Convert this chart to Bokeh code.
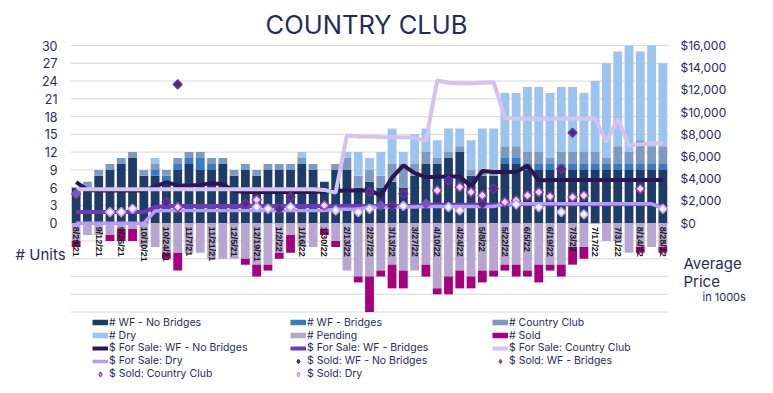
import numpy as np
from bokeh.plotting import figure
from bokeh.models import (Range1d, ColumnDataSource, Legend, LegendItem, Label)
from bokeh.core.properties import value
from bokeh.embed import file_html
from bokeh.resources import INLINE

# ---------------- data ----------------
weeks = ["8/29/21", "9/5/21", "9/12/21", "9/19/21", "9/26/21", "10/3/21", "10/10/21", "10/17/21",
         "10/24/21", "10/31/21", "11/7/21", "11/14/21", "11/21/21", "11/28/21", "12/5/21", "12/12/21",
         "12/19/21", "12/26/21", "1/2/22", "1/9/22", "1/16/22", "1/23/22", "1/30/22", "2/6/22",
         "2/13/22", "2/20/22", "2/27/22", "3/6/22", "3/13/22", "3/20/22", "3/27/22", "4/3/22",
         "4/10/22", "4/17/22", "4/24/22", "5/1/22", "5/8/22", "5/15/22", "5/22/22", "5/29/22",
         "6/5/22", "6/12/22", "6/19/22", "6/26/22", "7/3/22", "7/10/22", "7/17/22", "7/24/22",
         "7/31/22", "8/7/22", "8/14/22", "8/21/22", "8/28/22"]

wf_no_bridges = [6, 6, 8, 9, 10, 11, 8, 8, 7, 9, 10, 9, 9, 10, 8, 9, 8, 9, 9, 9,
                 10, 9, 7, 9, 9, 6, 7, 6, 7, 6, 8, 10, 10, 11, 12, 8, 8, 8, 10, 10,
                 9, 9, 9, 9, 9, 9, 9, 9, 9, 9, 9, 9, 9]
wf_bridges = [0, 0, 0, 0, 0, 0, 0, 1, 1, 1, 1, 2, 1, 0, 0, 0, 0, 0, 0, 0,
              0, 0, 0, 0, 0, 0, 0, 0, 0, 0, 0, 0, 0, 0, 0, 0, 0, 0, 1, 1,
              1, 1, 1, 1, 1, 1, 1, 1, 1, 1, 1, 1, 1]
country_club = [0, 1, 1, 1, 1, 1, 1, 1, 1, 1, 1, 1, 1, 1, 1, 1, 1, 1, 1, 1,
                1, 1, 0, 1, 2, 2, 2, 2, 3, 4, 2, 2, 1, 1, 1, 1, 1, 1, 2, 2,
                2, 2, 1, 2, 2, 2, 2, 1, 3, 2, 4, 3, 3]
dry = [0, 0, 0, 0, 0, 0, 0, 1, 0, 0, 0, 0, 0, 0, 0, 0, 0, 0, 0, 0,
       1, 0, 0, 0, 1, 4, 2, 4, 6, 2, 5, 4, 3, 4, 3, 5, 7, 7, 9, 9,
       11, 11, 11, 11, 11, 10, 12, 16, 16, 18, 15, 17, 14]
pending = [3, 2, 2, 2, 1, 1, 4, 4, 5, 5, 5, 5, 6, 6, 6, 6, 7, 7, 5, 2,
           4, 4, 1, 3, 8, 9, 9, 8, 7, 8, 8, 7, 11, 9, 8, 9, 8, 8, 7, 7,
           8, 7, 7, 7, 4, 4, 0, 3, 3, 5, 4, 4, 4]
sold = [1, 0, 0, 1, 2, 2, 0, 0, 1, 3, 0, 0, 0, 0, 0, 1, 2, 1, 1, 3,
        0, 0, 1, 1, 0, 1, 6, 1, 4, 3, 0, 2, 1, 3, 3, 2, 2, 1, 1, 2,
        1, 3, 1, 2, 3, 2, 0, 0, 0, 0, 1, 0, 1]

fs_wf_no_bridges = [3700, 3000, 2950, 2950, 2950, 2950, 2950, 3300, 3700, 3400,
                    3400, 3450, 3600, 3500, 2900, 2800, 2800, 2800, 2800, 2800,
                    2800, 2800, 2850, 2900, 2950, 2950, 2950, 2500, 4100, 5200,
                    4500, 4150, 4150, 4200, 4200, 3300, 4700, 4600, 4600, 4600,
                    5200, 3850, 3900, 3900, 3900, 3900, 3900, 3900, 3900, 3900,
                    3900, 3900, 3900]
fs_wf_bridges = [1000, 1000, 1000, 1000, 1000, 1000, 1000, 1450, 1550, 1550,
                 1550, 1550, 1550, 1550, 1550, 1550, 1550, 1550, 1550, 1550,
                 1550, 1550, 1550, 1550, 1550, 1550, 1550, 1550, 1550, 1550,
                 1550, 1650, 1650, 1650, 1650, 1650, 1650, 1650, 1700, 1700,
                 1700, 1700, 1700, 1700, 1700, 1700, 1700, 1700, 1700, 1700,
                 1700, 1700, 1450]
fs_country_club = [3050, 3050, 3050, 3050, 3050, 3050, 3050, 3050, 3050, 3050,
                   3050, 3050, 3050, 3050, 3050, 3050, 3050, 3050, 3050, 3050,
                   3050, 3050, 3000, 2750, 7900, 7800, 7800, 7750, 7750, 7750,
                   7700, 7400, 12850, 12650, 12600, 12600, 12650, 12700, 9500, 9400,
                   9400, 9400, 9400, 9400, 9400, 9400, 9400, 7300, 9400, 7000,
                   7100, 7200, 7200]
fs_dry = [0, 0, 0, 0, 0, 0, 0, 1100, 1150, 1150,
          1150, 1150, 1150, 1150, 1150, 1150, 1150, 1150, 1150, 1150,
          1150, 1150, 1150, 1250, 1250, 1250, 1450, 1450, 1450, 1450,
          1450, 1500, 1500, 1500, 1500, 1500, 1500, 1500, 1750, 1750,
          1750, 1750, 1750, 1750, 1750, 1750, 1750, 1750, 1750, 1750,
          1750, 1750, 1350]

sold_nb_week = [8, 9, 15, 18, 19, 26, 28, 29, 33, 36, 37, 43, 44]
sold_nb_price = [1900, 12500, 1750, 1300, 2350, 2800, 1550, 2650, 3850, 1750, 3100, 4900, 8150]
sold_b_week = [0, 27, 31]
sold_b_price = [2650, 1600, 1750]
sold_cc_week = [9, 16, 22, 32, 34, 35, 36, 38, 39, 40, 41, 42, 44, 45, 50]
sold_cc_price = [1450, 2100, 1600, 2950, 3250, 2800, 2500, 1900, 2050, 2500, 2800, 2400, 2350, 2500, 3100]
sold_dry_week = [3, 4, 5, 16, 17, 19, 23, 25, 26, 29, 33, 34, 39, 41, 43, 45, 52]
sold_dry_price = [1000, 1000, 1300, 1450, 1300, 1450, 1150, 1000, 1300, 1550, 1450, 1150, 1700, 1450, 1000, 800, 1300]

unit_ticks = [0, 3, 6, 9, 12, 15, 18, 21, 24, 27, 30]
grid_ticks = [-15, -12, -9, -6, -3, 0, 3, 6, 9, 12, 15, 18, 21, 24, 27, 30]
usd_ticks = [0, 2000, 4000, 6000, 8000, 10000, 12000, 14000, 16000]
usd_tick_labels = ["$0", "$2,000", "$4,000", "$6,000", "$8,000", "$10,000", "$12,000", "$14,000", "$16,000"]

N = len(weeks)
for arr in (wf_no_bridges, wf_bridges, country_club, dry, pending, sold,
            fs_wf_no_bridges, fs_wf_bridges, fs_country_club, fs_dry):
    assert len(arr) == N, len(arr)

NAVY = "#1f2d5c"
C_NB, C_B, C_CC, C_DRY = "#1f3c68", "#3d7ac6", "#7d9ac2", "#9dc3f0"
C_PEND, C_SOLD = "#b7a7d0", "#a6007f"
L_NB, L_B, L_CC, L_DRY = "#2b1655", "#6f3bb5", "#d4c3ef", "#b49df5"

W, H = 773, 393
# plot-area geometry (pixels)
FR_L, FR_R, FR_T, FR_0 = 70.0, 668.0, 45.0, 222.7
KX = (FR_R - FR_L) / N
KY = (FR_0 - FR_T) / 30.0
X0 = -0.5 - FR_L / KX
X1 = X0 + W / KX
Y1 = 30 + FR_T / KY
Y0 = Y1 - H / KY
USD_PER_UNIT = 16000 / 30.0

p = figure(width=W, height=H, output_backend="svg", toolbar_location=None, title=None,
           x_range=Range1d(X0, X1), y_range=Range1d(Y0, Y1),
           x_axis_location=None, y_axis_location=None,
           min_border_left=0, min_border_right=0, min_border_top=0, min_border_bottom=0)
p.outline_line_color = None
p.background_fill_color = "white"
p.border_fill_color = "white"
p.grid.visible = False
p.extra_y_ranges = {"usd": Range1d(Y0 * USD_PER_UNIT, Y1 * USD_PER_UNIT)}

# gridlines
gt = np.array(grid_ticks, dtype=float)
p.segment(x0=np.full(len(gt), -0.5), x1=np.full(len(gt), N - 0.5), y0=gt, y1=gt,
          line_color="#d9d9d9", line_width=1)

# tick labels
p.text(x=np.full(len(unit_ticks), -0.5), y=unit_ticks, text=[str(t) for t in unit_ticks],
       x_offset=-13, text_align="right", text_baseline="middle",
       text_font=value("Inter"), text_font_size="12.5px", text_color=NAVY)
p.text(x=np.full(len(usd_ticks), N - 0.5), y=usd_ticks, text=usd_tick_labels, y_range_name="usd",
       x_offset=12, text_align="left", text_baseline="middle",
       text_font=value("Inter"), text_font_size="12px", text_color=NAVY)

# bars
x = np.arange(N)
pend = np.array(pending)
sld = np.array(sold)
src = ColumnDataSource(dict(x=x, nb=wf_no_bridges, b=wf_bridges, cc=country_club, dry=dry,
                            p_bot=-pend, s_top=-pend, s_bot=-(pend + sld)))
BW = 0.78
p.vbar_stack(["nb", "b", "cc", "dry"], x="x", width=BW, source=src,
             fill_color=[C_NB, C_B, C_CC, C_DRY], line_color=None)
p.vbar(x="x", top=0, bottom="p_bot", width=BW, source=src, fill_color=C_PEND, line_color=None)
p.vbar(x="x", top="s_top", bottom="s_bot", width=BW, source=src, fill_color=C_SOLD, line_color=None)

# week labels (every other week)
lab_idx = list(range(0, N, 2))
lab_src = ColumnDataSource(dict(x=lab_idx, y=[0] * len(lab_idx), t=[weeks[i] for i in lab_idx]))
p.text(x="x", y="y", text="t", source=lab_src, angle=-np.pi / 2, text_align="left",
       text_baseline="middle", y_offset=3.5, text_font=value("Liberation Sans"),
       text_font_style="bold", text_font_size="9px", text_color="#1a1a1a")

# price lines
l_nb = p.line(x, fs_wf_no_bridges, y_range_name="usd", line_width=4, line_color=L_NB)
l_b = p.line(x, fs_wf_bridges, y_range_name="usd", line_width=4, line_color=L_B)
l_cc = p.line(x, fs_country_club, y_range_name="usd", line_width=4, line_color=L_CC)
l_dry = p.line(x, fs_dry, y_range_name="usd", line_width=3.5, line_color=L_DRY)

# sold markers
MS = 6.5
MK = dict(y_range_name="usd", marker="square", angle=np.pi / 4, size=MS)
p.scatter(sold_nb_week, sold_nb_price, fill_color="#4c2a85", line_color="#6a3a9a", line_width=1.2, **MK)
p.scatter(sold_b_week, sold_b_price, fill_color="#7b52c1", line_color="#7b52c1", line_width=1.2, **MK)
p.scatter(sold_cc_week, sold_cc_price, fill_color="#e6dcf7", line_color="#9b3fb0", line_width=1.5, **MK)
p.scatter(sold_dry_week, sold_dry_price, fill_color="#f4f1ff", line_color="#b9a0f0", line_width=1.5, **MK)

# legend proxies (off-screen data)
OFF = dict(x=[X0 - 10, X0 - 9], y=[Y0 - 10, Y0 - 10])

def bar_proxy(c):
    return p.line(OFF["x"], OFF["y"], line_width=5.5, line_color=c)

def mk_proxy(fc, lc, lw):
    return p.scatter(OFF["x"], OFF["y"], marker="diamond", fill_color=fc, line_color=lc, line_width=lw)

px_nb, px_b, px_cc, px_dry = bar_proxy(C_NB), bar_proxy(C_B), bar_proxy(C_CC), bar_proxy(C_DRY)
px_p, px_s = bar_proxy(C_PEND), bar_proxy(C_SOLD)
pm_nb = mk_proxy("#4c2a85", "#4c2a85", 1)
pm_b = mk_proxy("#7b52c1", "#7b52c1", 1)
pm_cc = mk_proxy("#e6dcf7", "#9b3fb0", 1.3)
pm_dry = mk_proxy("#f4f1ff", "#b9a0f0", 1.3)

COLS = [92, 290, 492]
ROW_STEP = 12.8
ROWS = [322.5 + i * ROW_STEP for i in range(5)]
ITEM_H = 12.7

def add_item(label, rend, col, row):
    loc = (COLS[col], H - ROWS[row] - ITEM_H / 2)
    lg = Legend(items=[LegendItem(label=label, renderers=[rend])], location=loc,
                orientation="vertical", glyph_width=16, glyph_height=12, label_height=10,
                label_width=20, spacing=0, padding=0, margin=0, label_standoff=1,
                label_text_font="Inter", label_text_font_size="10.5px", label_text_color=NAVY,
                background_fill_alpha=0, border_line_alpha=0)
    p.add_layout(lg, "center")

add_item("# WF - No Bridges", px_nb, 0, 0)
add_item("# WF - Bridges", px_b, 1, 0)
add_item("# Country Club", px_cc, 2, 0)
add_item("# Dry", px_dry, 0, 1)
add_item("# Pending", px_p, 1, 1)
add_item("# Sold", px_s, 2, 1)
add_item("$ For Sale: WF - No Bridges", l_nb, 0, 2)
add_item("$ For Sale: WF - Bridges", l_b, 1, 2)
add_item("$ For Sale: Country Club", l_cc, 2, 2)
add_item("$ For Sale: Dry", l_dry, 0, 3)
add_item("$ Sold: WF - No Bridges", pm_nb, 1, 3)
add_item("$ Sold: WF - Bridges", pm_b, 2, 3)
add_item("$ Sold: Country Club", pm_cc, 0, 4)
add_item("$ Sold: Dry", pm_dry, 1, 4)

# texts
def lbl(t, xx, yy, size, align="left"):
    p.add_layout(Label(x=xx, y=H - yy, x_units="screen", y_units="screen", text=t,
                       text_font="Inter", text_font_size=size, text_color=NAVY,
                       text_align=align, text_baseline="middle"))

lbl("COUNTRY CLUB", 366, 24, "25.5px", "center")
lbl("# Units", 15, 254, "15px")
lbl("Average", 683, 263, "15px")
lbl("Price", 683, 281, "15px")
lbl("in 1000s", 702, 296, "11px")

open("out.html", "w").write(file_html(p, INLINE))
